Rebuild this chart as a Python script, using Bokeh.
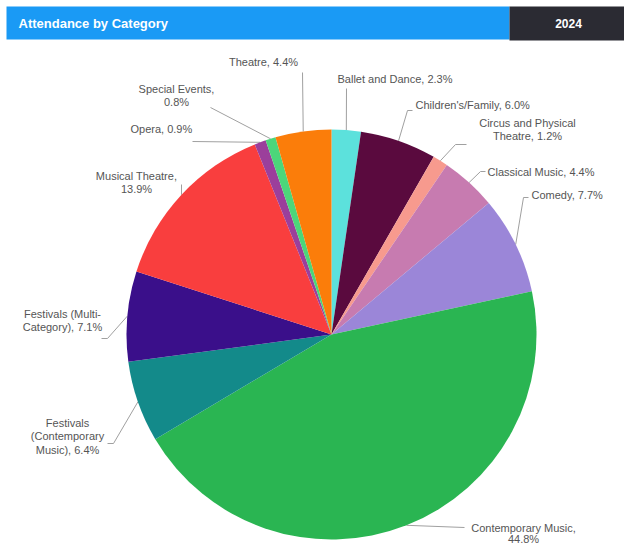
import math
from bokeh.plotting import figure
from bokeh.models import Range1d
from bokeh.core.properties import value
from bokeh.embed import file_html
from bokeh.resources import INLINE

# ---- data ----
categories = ["Ballet and Dance", "Children's/Family", "Circus and Physical Theatre",
              "Classical Music", "Comedy", "Contemporary Music",
              "Festivals (Contemporary Music)", "Festivals (Multi-Category)",
              "Musical Theatre", "Opera", "Special Events", "Theatre"]
shares = [2.3, 6.0, 1.2, 4.4, 7.7, 44.8, 6.4, 7.1, 13.9, 0.9, 0.8, 4.4]
colors = ["#5ce1dc", "#5a0a3e", "#f79a8e", "#c77bb0", "#9b86d8", "#2ab552",
          "#138a8a", "#3a0f8a", "#f93e3e", "#9b3f9b", "#4cd67a", "#fb7d0a"]
title = "Attendance by Category"
year = "2024"

# line breaks for wrapped labels
wraps = {
    "Circus and Physical Theatre": ["Circus and Physical", "Theatre, {v}%"],
    "Contemporary Music": ["Contemporary Music,", "{v}%"],
    "Festivals (Contemporary Music)": ["Festivals", "(Contemporary", "Music), {v}%"],
    "Festivals (Multi-Category)": ["Festivals (Multi-", "Category), {v}%"],
    "Musical Theatre": ["Musical Theatre,", "{v}%"],
    "Special Events": ["Special Events,", "{v}%"],
}

# ---- layout (pixel space, y down) ----
W, H = 624, 544
CX, CY, R = 331, 334, 205
LINE_H = 13.5
label_pos = {   # x, y of first line, align, line height
    "Ballet and Dance": (337, 78, "left", LINE_H),
    "Children's/Family": (415, 104, "left", LINE_H),
    "Circus and Physical Theatre": (527, 122, "center", LINE_H),
    "Classical Music": (487, 171, "left", LINE_H),
    "Comedy": (531, 194, "left", LINE_H),
    "Contemporary Music": (523, 527, "center", 11.5),
    "Festivals (Contemporary Music)": (67, 422, "center", LINE_H),
    "Festivals (Multi-Category)": (62, 313, "center", LINE_H),
    "Musical Theatre": (136, 175, "center", LINE_H),
    "Opera": (130, 128, "left", LINE_H),
    "Special Events": (176, 88, "center", LINE_H),
    "Theatre": (263, 61, "center", LINE_H),
}
connector = {
    "Ballet and Dance": [(346, 88)],
    "Children's/Family": [(407, 110), (412, 110)],
    "Circus and Physical Theatre": [(455, 144), (466, 144)],
    "Classical Music": [(480, 171), (485, 171)],
    "Comedy": [(523, 197), (528, 197)],
    "Contemporary Music": [(464, 527)],
    "Festivals (Contemporary Music)": [(113, 443), (107, 443)],
    "Festivals (Multi-Category)": [(107, 338), (101, 338)],
    "Musical Theatre": [(181, 184)],
    "Opera": [(192, 141)],
    "Special Events": [(210, 107)],
    "Theatre": [(302, 72)],
}


def Y(py):
    return H - py


p = figure(width=W, height=H, output_backend="svg", toolbar_location=None,
           x_range=Range1d(0, W), y_range=Range1d(0, H),
           x_axis_type=None, y_axis_type=None, min_border=0,
           outline_line_color=None, background_fill_color="white")
p.grid.visible = False

# header
p.quad(left=[6], right=[509], top=[Y(6)], bottom=[Y(39)], fill_color="#1a9af5", line_color=None)
p.quad(left=[509], right=[W], top=[Y(6)], bottom=[Y(40)], fill_color="#2b2b33", line_color=None)
p.text(x=[18], y=[Y(23)], text=[title], text_color="white", text_font=value("Liberation Sans"),
       text_font_style="bold", text_font_size="13px", text_baseline="middle", text_align="left")
p.text(x=[568], y=[Y(23)], text=[year], text_color="white", text_font=value("Liberation Sans"),
       text_font_style="bold", text_font_size="12px", text_baseline="middle", text_align="center")

total = sum(shares)
cum = 0.0
starts, ends = [], []
for i, (cat, v) in enumerate(zip(categories, shares)):
    c0 = cum / total
    cum += v
    c1 = cum / total
    starts.append(math.pi / 2 - 2 * math.pi * c1)
    ends.append(math.pi / 2 - 2 * math.pi * c0)
    mid = 2 * math.pi * (c0 + c1) / 2
    ex, ey = CX + R * math.sin(mid), CY - R * math.cos(mid)
    pts = [(ex, ey)] + connector[cat]
    p.line([q[0] for q in pts], [Y(q[1]) for q in pts], line_color="#a0a0a0", line_width=1)
    vs = f"{v:.1f}"
    lines = [s.format(v=vs) for s in wraps[cat]] if cat in wraps else [f"{cat}, {vs}%"]
    lx, ly, al, lh = label_pos[cat]
    p.text(x=[lx] * len(lines), y=[Y(ly + k * lh) for k in range(len(lines))], text=lines,
           text_color="#555555", text_font=value("Liberation Sans"), text_font_size="11px",
           text_baseline="middle", text_align=al)

p.wedge(x=CX, y=Y(CY), radius=R, start_angle=starts, end_angle=ends,
        direction="anticlock", fill_color=colors, line_color=None)

open("out.html", "w").write(file_html(p, INLINE))
